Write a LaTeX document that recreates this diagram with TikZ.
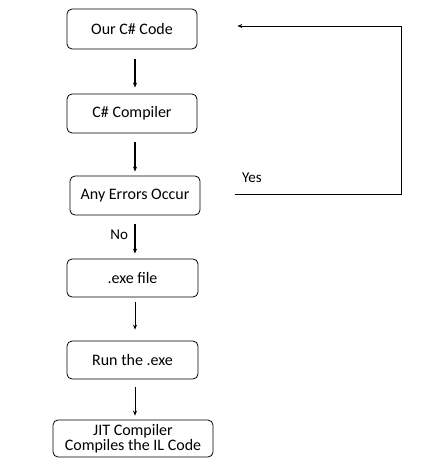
\documentclass[tikz,border=0pt]{standalone}
\usepackage{fontspec}
\setmainfont{Carlito}
\usetikzlibrary{arrows.meta}
\begin{document}
\begin{tikzpicture}[x=1pt,y=-1pt,
  box/.style={draw,rounded corners=5pt,line width=0.8pt,inner sep=0pt,align=center,
    font=\fontsize{16}{14.5}\selectfont},
  arr/.style={-{Stealth[length=5pt,width=4pt]},line width=1.2pt},
  thinarr/.style={-{Stealth[length=5pt,width=4pt]},line width=0.7pt}]
\useasboundingbox[fill=white] (0,0) rectangle (433,473);
\node[box,minimum width=130pt,minimum height=40pt] (b1) at (132,29) {Our C\# Code};
\node[box,minimum width=130pt,minimum height=39pt] (b2) at (132,113.5) {C\# Compiler};
\node[box,minimum width=130pt,minimum height=39pt] (b3) at (135,195.5) {Any Errors Occur};
\node[box,minimum width=131pt,minimum height=38pt] (b4) at (132.5,278) {.exe file};
\node[box,minimum width=131pt,minimum height=38pt] (b5) at (132.5,360) {Run the .exe};
\node[box,minimum width=160pt,minimum height=37pt] (b6) at (133,438.5) {JIT Compiler\\Compiles the IL Code};
\draw[arr] ([xshift=3pt,yshift=-10pt]b1.south) -- ([xshift=3pt,yshift=6pt]b2.north);
\draw[arr] ([xshift=3pt,yshift=-9pt]b2.south) -- ([xshift=3pt,yshift=4pt]b2.south |- b3.north);
\draw[arr] ([yshift=-9pt]b3.south) -- ([yshift=5pt]b3.south |- b4.north) node[pos=0.35,left=3pt,font=\fontsize{15}{14}\selectfont] (no) {No};
\draw[thinarr] ([xshift=2.5pt,yshift=-5pt]b4.south) -- ([xshift=2.5pt,yshift=11pt]b5.north);
\draw[thinarr] ([xshift=2.5pt,yshift=-8pt]b5.south) -- ([xshift=2.5pt,yshift=4pt]b5.south |- b6.north);
\coordinate (ys) at ([xshift=35pt,yshift=1.5pt]b3.east);
\coordinate (yc) at (401,26);
\draw[thinarr] (ys) -| (yc) -- ([xshift=40pt,yshift=3pt]b1.east);
\node[font=\fontsize{15}{14}\selectfont] (yes) at (252,178) {Yes};
\end{tikzpicture}
\end{document}
